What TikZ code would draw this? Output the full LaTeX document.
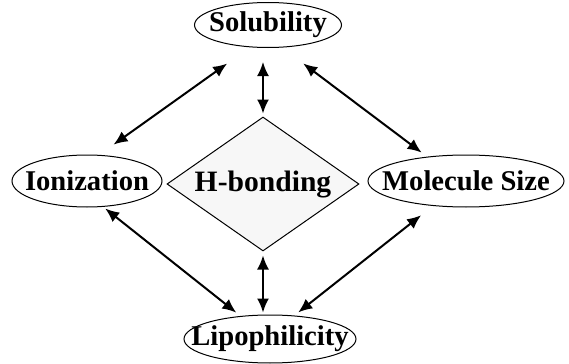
\documentclass[tikz,border=0pt]{standalone}
\usepackage{fontspec}
\setmainfont{Liberation Serif}
\usetikzlibrary{shapes.geometric, arrows.meta}

\begin{document}
\begin{tikzpicture}[
    x=0.5pt, y=-0.5pt,
    % Styles
    property/.style={
        ellipse,
        draw,
        line width=0.5pt,
        inner xsep=-20pt,
        inner ysep=0pt,
        font=\bfseries\fontsize{14.3}{16}\selectfont
    },
    centre/.style={
        diamond,
        draw,
        line width=0.5pt,
        fill=black!3,
        aspect=1.43,
        inner sep=0pt,
        minimum width=96pt,
        minimum height=67pt,
        font=\bfseries\fontsize{14.8}{16}\selectfont
    },
    link/.style={
        {Latex[length=7pt,width=6pt]}-{Latex[length=7pt,width=6pt]},
        line width=1pt
    }
]
    \useasboundingbox (0,0) rectangle (569,364);

    % Centre
    \node[centre] (hbond) at (263,184) {H-bonding};

    % Properties
    \node[property, minimum width=73.5pt, minimum height=22.5pt] (sol) at (268,25) {Solubility};
    \node[property, minimum width=75pt, minimum height=26pt] (ion) at (87,181) {Ionization};
    \node[property, minimum width=98pt, minimum height=26pt] (mol) at (466,181) {Molecule Size};
    \node[property, minimum width=86pt, minimum height=24pt] (lip) at (270,339) {Lipophilicity};

    % Connections
    \draw[link, shorten <=7pt, shorten >=1.5pt] (hbond.north |- sol.south) -- (hbond.north);
    \draw[link, shorten <=2pt, shorten >=1pt] (hbond.south) -- (hbond.south |- lip.north);
    \draw[link, shorten <=14pt, shorten >=8.8pt] (sol.231) -- (ion.65);
    \draw[link, shorten <=13.2pt, shorten >=3.4pt] (sol.302) -- (mol.148);
    \draw[link, shorten <=1.3pt, shorten >=2.7pt] (ion.302) -- (lip.142);
    \draw[link, shorten <=7.5pt, shorten >=2.5pt] (mol.217) -- (lip.44);
\end{tikzpicture}
\end{document}
